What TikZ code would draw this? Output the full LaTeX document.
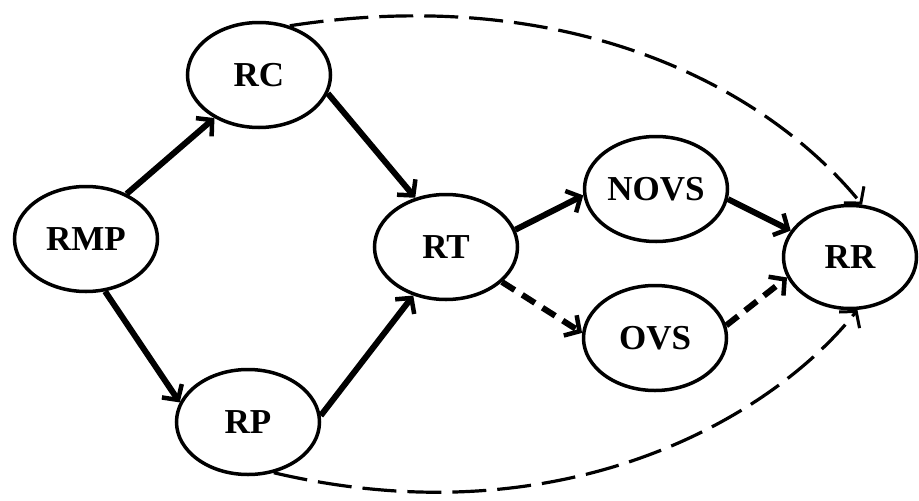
\documentclass[tikz,border=0pt]{standalone}
\usepackage{fontspec}
\setmainfont{Liberation Serif}
\usetikzlibrary{shapes.geometric,arrows.meta}
\begin{document}
\begin{tikzpicture}[x=1pt,y=-1pt,
  stnode/.style={ellipse,draw,line width=3.5pt,minimum width=143pt,minimum height=105pt,inner sep=0pt,
    font=\fontsize{35}{35}\selectfont\bfseries},
  solidarr/.style={line width=6pt,-{Straight Barb[length=11pt,width=24pt,line width=4.5pt]}},
  thickdash/.style={line width=6pt,dash pattern=on 15pt off 9pt,-{Straight Barb[length=11pt,width=24pt,line width=4.5pt]}},
  thindash/.style={line width=3.2pt,dash pattern=on 34pt off 11pt,-{Straight Barb[length=11pt,width=26pt,line width=3pt]}}]
\useasboundingbox (0,0) rectangle (919,501);
\node[stnode] (RMP) at (86,239) {RMP};
\node[stnode] (RC) at (259,75) {RC};
\node[stnode] (RP) at (248,422) {RP};
\node[stnode] (RT) at (446,247) {RT};
\node[stnode] (NOVS) at (656,189) {NOVS};
\node[stnode] (OVS) at (655,338) {OVS};
\node[stnode,minimum width=133pt,minimum height=103pt] (RR) at (850,257) {RR};
\draw[solidarr] (RMP.48) -- (RC.-136);
\draw[solidarr] (RC.-15) -- (RT.122);
\draw[solidarr] (RMP.-70) -- (RP.164);
\draw[solidarr] (RP.5) -- (RT.-124);
\draw[solidarr] (RT.14) -- (NOVS.185);
\draw[solidarr] (NOVS.-8) -- (RR.156);
\draw[thickdash] (RT.-32) -- (OVS.176);
\draw[thickdash] (OVS.10) -- (RR.-162);
\draw[thindash] (RC.58) .. controls (560,-16) and (760,80) .. (RR.77);
\draw[thindash] (RP.-63) .. controls (560,540) and (770,420) .. (RR.-82);
\end{tikzpicture}
\end{document}
